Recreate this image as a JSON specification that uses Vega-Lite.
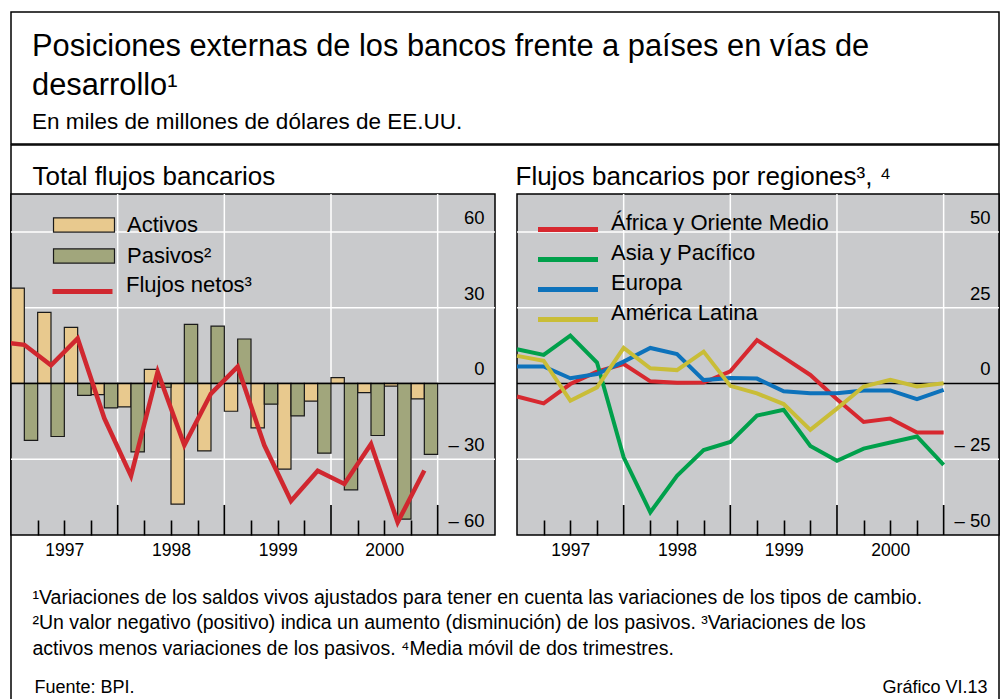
{
  "$schema": "https://vega.github.io/schema/vega-lite/v6.json",
  "padding": {"top": 10, "left": 9, "right": 5, "bottom": 0},
  "autosize": {"type": "pad"},
  "background": "white",
  "spacing": -3,
  "config": {
    "font": "Liberation Sans",
    "view": {"stroke": "black", "strokeWidth": 1.5},
    "axis": {"labelFont": "Liberation Sans", "titleFont": "Liberation Sans", "labelColor": "#000", "titleColor": "#000", "titleFontWeight": "normal", "labelFlush": false, "labelOverlap": false, "labelBound": false},
    "title": {"font": "Liberation Sans", "fontWeight": "normal", "color": "#000", "subtitleColor": "#000", "subtitleFont": "Liberation Sans"},
    "legend": {"labelFont": "Liberation Sans", "labelColor": "#000", "labelLimit": 0, "padding": 0}
  },
  "datasets": {
    "totales": [
      {"t": 1996.875, "neto": 16.6},
      {"t": 1997.125, "activos": 37.7, "pasivos": -22.5, "neto": 15.3},
      {"t": 1997.375, "activos": 28.1, "pasivos": -21.0, "neto": 7.2},
      {"t": 1997.625, "activos": 22.2, "pasivos": -4.7, "neto": 17.8},
      {"t": 1997.875, "activos": -4.4, "pasivos": -9.7, "neto": -13.8},
      {"t": 1998.125, "activos": -9.3, "pasivos": -27.1, "neto": -36.6},
      {"t": 1998.375, "activos": 5.6, "pasivos": -1.5, "neto": 4.6},
      {"t": 1998.625, "activos": -47.8, "pasivos": 23.4, "neto": -24.4},
      {"t": 1998.875, "activos": -26.7, "pasivos": 22.7, "neto": -4.0},
      {"t": 1999.125, "activos": -11.0, "pasivos": 17.6, "neto": 6.6},
      {"t": 1999.375, "activos": -17.6, "pasivos": -8.2, "neto": -24.5},
      {"t": 1999.625, "activos": -33.9, "pasivos": -12.8, "neto": -46.5},
      {"t": 1999.875, "activos": -7.0, "pasivos": -27.6, "neto": -34.6},
      {"t": 2000.125, "activos": 2.3, "pasivos": -42.1, "neto": -39.8},
      {"t": 2000.375, "activos": -3.6, "pasivos": -20.6, "neto": -24.0},
      {"t": 2000.625, "activos": -1.1, "pasivos": -53.7, "neto": -55.0},
      {"t": 2000.875, "activos": -6.1, "pasivos": -28.1, "neto": -34.5}
    ],
    "regiones": [
      {"t": 1997.0, "region": "África y Oriente Medio", "valor": -4.3},
      {"t": 1997.25, "region": "África y Oriente Medio", "valor": -6.6},
      {"t": 1997.5, "region": "África y Oriente Medio", "valor": -0.2},
      {"t": 1997.75, "region": "África y Oriente Medio", "valor": 3.9},
      {"t": 1998.0, "region": "África y Oriente Medio", "valor": 6.4},
      {"t": 1998.25, "region": "África y Oriente Medio", "valor": 0.7},
      {"t": 1998.5, "region": "África y Oriente Medio", "valor": 0.2},
      {"t": 1998.75, "region": "África y Oriente Medio", "valor": 0.3},
      {"t": 1999.0, "region": "África y Oriente Medio", "valor": 4.0},
      {"t": 1999.25, "region": "África y Oriente Medio", "valor": 14.3},
      {"t": 1999.5, "region": "África y Oriente Medio", "valor": 8.6},
      {"t": 1999.75, "region": "África y Oriente Medio", "valor": 2.8},
      {"t": 2000.0, "region": "África y Oriente Medio", "valor": -5.2},
      {"t": 2000.25, "region": "África y Oriente Medio", "valor": -12.7},
      {"t": 2000.5, "region": "África y Oriente Medio", "valor": -11.6},
      {"t": 2000.75, "region": "África y Oriente Medio", "valor": -16.2},
      {"t": 2001.0, "region": "África y Oriente Medio", "valor": -16.2},
      {"t": 1997.0, "region": "Asia y Pacífico", "valor": 11.3},
      {"t": 1997.25, "region": "Asia y Pacífico", "valor": 9.4},
      {"t": 1997.5, "region": "Asia y Pacífico", "valor": 15.8},
      {"t": 1997.75, "region": "Asia y Pacífico", "valor": 6.9},
      {"t": 1998.0, "region": "Asia y Pacífico", "valor": -24.4},
      {"t": 1998.25, "region": "Asia y Pacífico", "valor": -42.5},
      {"t": 1998.5, "region": "Asia y Pacífico", "valor": -30.5},
      {"t": 1998.75, "region": "Asia y Pacífico", "valor": -22.0},
      {"t": 1999.0, "region": "Asia y Pacífico", "valor": -19.3},
      {"t": 1999.25, "region": "Asia y Pacífico", "valor": -10.6},
      {"t": 1999.5, "region": "Asia y Pacífico", "valor": -8.7},
      {"t": 1999.75, "region": "Asia y Pacífico", "valor": -20.6},
      {"t": 2000.0, "region": "Asia y Pacífico", "valor": -25.5},
      {"t": 2000.25, "region": "Asia y Pacífico", "valor": -21.5},
      {"t": 2000.5, "region": "Asia y Pacífico", "valor": -19.5},
      {"t": 2000.75, "region": "Asia y Pacífico", "valor": -17.5},
      {"t": 2001.0, "region": "Asia y Pacífico", "valor": -26.9},
      {"t": 1997.0, "region": "Europa", "valor": 5.6},
      {"t": 1997.25, "region": "Europa", "valor": 5.6},
      {"t": 1997.5, "region": "Europa", "valor": 1.7},
      {"t": 1997.75, "region": "Europa", "valor": 3.1},
      {"t": 1998.0, "region": "Europa", "valor": 7.2},
      {"t": 1998.25, "region": "Europa", "valor": 11.7},
      {"t": 1998.5, "region": "Europa", "valor": 9.7},
      {"t": 1998.75, "region": "Europa", "valor": 1.1},
      {"t": 1999.0, "region": "Europa", "valor": 1.8},
      {"t": 1999.25, "region": "Europa", "valor": 1.6},
      {"t": 1999.5, "region": "Europa", "valor": -2.6},
      {"t": 1999.75, "region": "Europa", "valor": -3.2},
      {"t": 2000.0, "region": "Europa", "valor": -3.2},
      {"t": 2000.25, "region": "Europa", "valor": -2.3},
      {"t": 2000.5, "region": "Europa", "valor": -2.3},
      {"t": 2000.75, "region": "Europa", "valor": -5.2},
      {"t": 2001.0, "region": "Europa", "valor": -2.1},
      {"t": 1997.0, "region": "América Latina", "valor": 9.1},
      {"t": 1997.25, "region": "América Latina", "valor": 7.5},
      {"t": 1997.5, "region": "América Latina", "valor": -5.7},
      {"t": 1997.75, "region": "América Latina", "valor": -1.3},
      {"t": 1998.0, "region": "América Latina", "valor": 11.7},
      {"t": 1998.25, "region": "América Latina", "valor": 5.0},
      {"t": 1998.5, "region": "América Latina", "valor": 4.4},
      {"t": 1998.75, "region": "América Latina", "valor": 10.5},
      {"t": 1999.0, "region": "América Latina", "valor": -0.8},
      {"t": 1999.25, "region": "América Latina", "valor": -3.3},
      {"t": 1999.5, "region": "América Latina", "valor": -6.8},
      {"t": 1999.75, "region": "América Latina", "valor": -15.3},
      {"t": 2000.0, "region": "América Latina", "valor": -8.3},
      {"t": 2000.25, "region": "América Latina", "valor": -1.0},
      {"t": 2000.5, "region": "América Latina", "valor": 1.2},
      {"t": 2000.75, "region": "América Latina", "valor": -1.0},
      {"t": 2001.0, "region": "América Latina", "valor": 0.1}
    ]
  },
  "vconcat": [
    {
      "width": 988,
      "height": 132,
      "view": {"stroke": "black", "strokeWidth": 1.5, "fill": "white"},
      "title": {
        "text": ["Posiciones externas de los bancos frente a países en vías de", "desarrollo¹"],
        "subtitle": "En miles de millones de dólares de EE.UU.",
        "anchor": "start",
        "frame": "group",
        "orient": "top",
        "offset": -123,
        "dx": 21,
        "fontSize": 30.8,
        "lineHeight": 39,
        "subtitleFontSize": 22.5,
        "subtitlePadding": 9
      },
      "data": {"values": [{}]},
      "mark": {"type": "rule", "opacity": 0},
      "encoding": {}
    },
    {
      "width": 988,
      "height": 556,
      "view": {"stroke": "black", "strokeWidth": 1.5, "fill": "white"},
      "resolve": {"scale": {"x": "independent", "y": "independent", "fill": "independent", "stroke": "independent"}},
      "layer": [
        {
          "resolve": {"axis": {"x": "independent", "y": "independent"}},
          "layer": [
            {
              "data": {"values": [{}]},
              "mark": {"type": "rect", "fill": "#c9cacc", "stroke": "#000", "strokeWidth": 1.5},
              "encoding": {
                "x": {"datum": 1997, "type": "quantitative",
                  "scale": {"domain": [1997, 2001.5375], "range": [0, 484], "nice": false, "zero": false, "padding": 0},
                  "axis": {"orient": "top", "offset": -390, "zindex": 1, "values": [1997.25, 1997.5, 1997.75, 1998.25, 1998.5, 1998.75, 1999.25, 1999.5, 1999.75, 2000.25, 2000.5, 2000.75],
                    "labels": false, "domain": false, "grid": false, "ticks": true, "tickColor": "#000", "tickWidth": 1.6, "tickSize": 15,
                    "title": "Total flujos bancarios", "titleX": 21, "titleY": -351, "titleAlign": "left", "titleAnchor": "start", "titleBaseline": "alphabetic", "titleFontSize": 26, "titleAngle": 0}},
                "x2": {"datum": 2001.5375},
                "y": {"datum": -60, "type": "quantitative",
                  "scale": {"domain": [-60, 75], "range": [390, 49], "nice": false, "zero": false, "padding": 0},
                  "axis": {"orient": "left", "offset": -484, "zindex": 1, "values": [-60, -30, 0, 30, 60],
                    "labelExpr": "datum.value < 0 ? '– ' + abs(datum.value) : datum.label",
                    "ticks": false, "domain": false, "grid": false, "labelPadding": 11, "labelAlign": "right", "labelBaseline": "alphabetic", "labelOffset": -8.5, "labelFontSize": 18.5,
                    "title": "Fuente: BPI.", "titleX": -461, "titleY": 547, "titleAngle": 0, "titleAlign": "left", "titleAnchor": "start", "titleBaseline": "alphabetic", "titleFontSize": 18}},
                "y2": {"datum": 75}
              }
            },
            {
              "data": {"values": [{"v": 60}, {"v": 30}, {"v": -30}]},
              "mark": {"type": "rule", "color": "white", "strokeWidth": 1.5},
              "encoding": {
                "y": {"field": "v", "type": "quantitative", "axis": null},
                "x": {"datum": 1997, "type": "quantitative", "axis": null},
                "x2": {"datum": 2001.5375}
              }
            },
            {
              "data": {"values": [{"a": 1998}, {"a": 1999}, {"a": 2000}, {"a": 2001}]},
              "mark": {"type": "rule", "color": "white", "strokeWidth": 1.5},
              "encoding": {
                "x": {"field": "a", "type": "quantitative", "axis": null},
                "y": {"datum": -48.1, "type": "quantitative", "axis": null},
                "y2": {"datum": 75}
              }
            },
            {
              "data": {"values": [{"a": 1998}, {"a": 1999}, {"a": 2000}, {"a": 2001}]},
              "mark": {"type": "rule", "color": "#000", "strokeWidth": 1.6},
              "encoding": {
                "x": {"field": "a", "type": "quantitative", "axis": null},
                "y": {"datum": -60, "type": "quantitative", "axis": null},
                "y2": {"datum": -48.1}
              }
            },
            {
              "data": {"name": "totales"},
              "mark": {"type": "bar", "width": 13.33, "xOffset": -6.67, "stroke": "#1a1a1a", "strokeWidth": 1.2},
              "encoding": {
                "x": {"field": "t", "type": "quantitative", "axis": null},
                "y": {"field": "activos", "type": "quantitative", "axis": null},
                "y2": {"datum": 0},
                "fill": {"datum": "Activos", "type": "nominal",
                  "scale": {"domain": ["Activos", "Pasivos"], "range": ["#e8c98e", "#a1a67c"]},
                  "legend": {"orient": "none", "legendX": 62, "legendY": 69, "symbolType": "M-3,-0.7H3V0.7H-3Z", "symbolSize": 413, "symbolStrokeColor": "#1a1a1a", "symbolStrokeWidth": 1.2, "labelFontSize": 22, "labelOffset": 32, "rowPadding": 9, "labelBaseline": "middle", "title": null,
                    "labelExpr": "datum.label == 'Pasivos' ? 'Pasivos²' : datum.label"}}
              }
            },
            {
              "data": {"name": "totales"},
              "mark": {"type": "bar", "width": 13.33, "xOffset": 6.67, "stroke": "#1a1a1a", "strokeWidth": 1.2},
              "encoding": {
                "x": {"field": "t", "type": "quantitative", "axis": null},
                "y": {"field": "pasivos", "type": "quantitative", "axis": null},
                "y2": {"datum": 0},
                "fill": {"datum": "Pasivos", "type": "nominal"}
              }
            },
            {
              "data": {"values": [{}]},
              "mark": {"type": "rule", "color": "#000", "strokeWidth": 1.5},
              "encoding": {
                "y": {"datum": 0, "type": "quantitative", "axis": null},
                "x": {"datum": 1997, "type": "quantitative",
                  "axis": {"orient": "bottom", "offset": -166, "zindex": 1, "values": [1997.5, 1998.5, 1999.5, 2000.5],
                    "labelExpr": "'' + floor(datum.value)", "ticks": false, "domain": false, "grid": false,
                    "labelPadding": 20, "labelBaseline": "alphabetic", "labelFontSize": 17.5,
                    "title": ["¹Variaciones de los saldos vivos ajustados para tener en cuenta las variaciones de los tipos de cambio.", "²Un valor negativo (positivo) indica un aumento (disminución) de los pasivos.    ³Variaciones de los", "activos menos variaciones de los pasivos.    ⁴Media móvil de dos trimestres."],
                    "titleX": 21, "titleY": 68, "titleAlign": "left", "titleAnchor": "start", "titleBaseline": "alphabetic", "titleFontSize": 19.5, "titleLineHeight": 25.5}},
                "x2": {"datum": 2001.5375}
              }
            },
            {
              "data": {"name": "totales"},
              "mark": {"type": "line", "strokeWidth": 4.5, "clip": true},
              "encoding": {
                "x": {"field": "t", "type": "quantitative", "axis": null},
                "y": {"field": "neto", "type": "quantitative", "axis": null},
                "stroke": {"datum": "Flujos netos", "type": "nominal",
                  "scale": {"domain": ["Flujos netos"], "range": ["#d0272f"]},
                  "legend": {"orient": "none", "legendX": 59, "legendY": 134, "symbolType": "M-3,0H3", "symbolSize": 400, "symbolStrokeWidth": 5, "labelFontSize": 22, "labelOffset": 31, "labelBaseline": "alphabetic", "title": null,
                    "labelExpr": "'Flujos netos³'"}}
              }
            }
          ]
        },
        {
          "resolve": {"axis": {"x": "independent", "y": "independent"}},
          "layer": [
            {
              "data": {"values": [{}]},
              "mark": {"type": "rect", "fill": "#c9cacc", "stroke": "#000", "strokeWidth": 1.5},
              "encoding": {
                "x": {"datum": 1997, "type": "quantitative",
                  "scale": {"domain": [1997, 2001.519], "range": [506, 988], "nice": false, "zero": false, "padding": 0},
                  "axis": {"orient": "top", "offset": -390, "zindex": 1, "values": [1997.25, 1997.5, 1997.75, 1998.25, 1998.5, 1998.75, 1999.25, 1999.5, 1999.75, 2000.25, 2000.5, 2000.75],
                    "labels": false, "domain": false, "grid": false, "ticks": true, "tickColor": "#000", "tickWidth": 1.6, "tickSize": 15,
                    "title": "Flujos bancarios por regiones³, ⁴", "titleX": 504, "titleY": -351, "titleAlign": "left", "titleAnchor": "start", "titleBaseline": "alphabetic", "titleFontSize": 26, "titleAngle": 0}},
                "x2": {"datum": 2001.519},
                "y": {"datum": -50, "type": "quantitative",
                  "scale": {"domain": [-50, 62.5], "range": [390, 49], "nice": false, "zero": false, "padding": 0},
                  "axis": {"orient": "left", "offset": -988, "zindex": 1, "values": [-50, -25, 0, 25, 50],
                    "labelExpr": "datum.value < 0 ? '– ' + abs(datum.value) : datum.label",
                    "ticks": false, "domain": false, "grid": false, "labelPadding": 9, "labelAlign": "right", "labelBaseline": "alphabetic", "labelOffset": -8.5, "labelFontSize": 18.5,
                    "title": "Gráfico VI.13", "titleX": -12, "titleY": 547, "titleAngle": 0, "titleAlign": "right", "titleAnchor": "end", "titleBaseline": "alphabetic", "titleFontSize": 18}},
                "y2": {"datum": 62.5}
              }
            },
            {
              "data": {"values": [{"v": 50}, {"v": 25}, {"v": -25}]},
              "mark": {"type": "rule", "color": "white", "strokeWidth": 1.5},
              "encoding": {
                "y": {"field": "v", "type": "quantitative", "axis": null},
                "x": {"datum": 1997, "type": "quantitative", "axis": null},
                "x2": {"datum": 2001.519}
              }
            },
            {
              "data": {"values": [{"a": 1998}, {"a": 1999}, {"a": 2000}, {"a": 2001}]},
              "mark": {"type": "rule", "color": "white", "strokeWidth": 1.5},
              "encoding": {
                "x": {"field": "a", "type": "quantitative", "axis": null},
                "y": {"datum": -40.1, "type": "quantitative", "axis": null},
                "y2": {"datum": 62.5}
              }
            },
            {
              "data": {"values": [{"a": 1998}, {"a": 1999}, {"a": 2000}, {"a": 2001}]},
              "mark": {"type": "rule", "color": "#000", "strokeWidth": 1.6},
              "encoding": {
                "x": {"field": "a", "type": "quantitative", "axis": null},
                "y": {"datum": -50, "type": "quantitative", "axis": null},
                "y2": {"datum": -40.1}
              }
            },
            {
              "data": {"values": [{}]},
              "mark": {"type": "rule", "color": "#000", "strokeWidth": 1.5},
              "encoding": {
                "y": {"datum": 0, "type": "quantitative", "axis": null},
                "x": {"datum": 1997, "type": "quantitative",
                  "axis": {"orient": "bottom", "offset": -166, "zindex": 1, "values": [1997.5, 1998.5, 1999.5, 2000.5],
                    "labelExpr": "'' + floor(datum.value)", "ticks": false, "domain": false, "grid": false,
                    "labelPadding": 20, "labelBaseline": "alphabetic", "labelFontSize": 17.5, "title": null}},
                "x2": {"datum": 2001.519}
              }
            },
            {
              "data": {"name": "regiones"},
              "mark": {"type": "line", "strokeWidth": 4, "clip": true},
              "encoding": {
                "x": {"field": "t", "type": "quantitative", "axis": null},
                "y": {"field": "valor", "type": "quantitative", "axis": null},
                "stroke": {"field": "region", "type": "nominal",
                  "scale": {"domain": ["África y Oriente Medio", "Asia y Pacífico", "Europa", "América Latina"], "range": ["#d7282f", "#00a04b", "#0d72bb", "#c9bd37"]},
                  "legend": {"orient": "none", "legendX": 544.5, "legendY": 72, "symbolType": "M-3,0H3", "symbolSize": 400, "symbolStrokeWidth": 5, "labelFontSize": 22, "labelOffset": 30.5, "rowPadding": 1, "labelBaseline": "alphabetic", "title": null}}
              }
            }
          ]
        }
      ]
    }
  ]
}
